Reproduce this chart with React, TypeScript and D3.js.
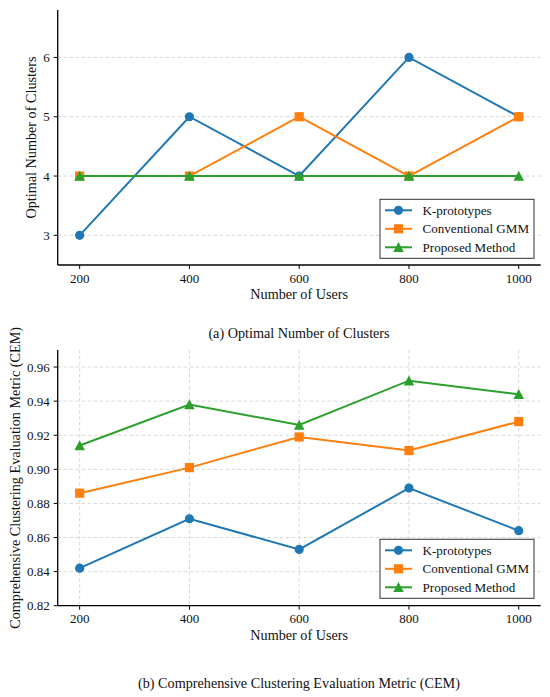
import React from "react";
import * as d3 from "d3";

const users = [200, 400, 600, 800, 1000];
const seriesNames = ["K-prototypes", "Conventional GMM", "Proposed Method"];
const colors = ["#1f77b4", "#ff7f0e", "#2ca02c"];
const markers = ["circle", "square", "triangle"];

const clustersK = [3, 5, 4, 6, 5];
const clustersGMM = [4, 4, 5, 4, 5];
const clustersProposed = [4, 4, 4, 4, 4];
const clusterTicks = [3, 4, 5, 6];

const cemK = [0.842, 0.871, 0.853, 0.889, 0.864];
const cemGMM = [0.886, 0.901, 0.919, 0.911, 0.928];
const cemProposed = [0.914, 0.938, 0.926, 0.952, 0.944];
const cemTicks = [0.82, 0.84, 0.86, 0.88, 0.9, 0.92, 0.94, 0.96];

const FONT = "'Liberation Serif', 'Times New Roman', serif";

function markerPath(kind: string, cx: number, cy: number): string {
  const p = d3.path();
  if (kind === "circle") {
    p.arc(cx, cy, 4.6, 0, Math.PI * 2);
  } else if (kind === "square") {
    p.rect(cx - 4.6, cy - 4.6, 9.2, 9.2);
  } else {
    p.moveTo(cx, cy - 5.3);
    p.lineTo(cx - 5.3, cy + 4.8);
    p.lineTo(cx + 5.3, cy + 4.8);
    p.closePath();
  }
  return p.toString();
}

type PanelProps = {
  data: number[][];
  yDomain: [number, number];
  yTicks: number[];
  yFormat: (v: number) => string;
  top: number;
  bottom: number;
  yLabel: string;
  yLabelX: number;
  caption: string;
  captionY: number;
  verticalGrid: boolean;
  legendTop: number;
};

function Panel(p: PanelProps) {
  const left = 57.7;
  const right = 540.7;
  const x = d3.scaleLinear().domain([160, 1040]).range([left, right]);
  const y = d3.scaleLinear().domain(p.yDomain).range([p.bottom, p.top]);
  const line = d3
    .line<number>()
    .x((_, i) => x(users[i]))
    .y((v) => y(v));
  const gridColor = "#d4d4d4";
  const legendLeft = 380;
  const legendW = 154;
  const rowH = 18.5;
  return (
    <g>
      {p.yTicks.map((t) => (
        <line
          key={"hg" + t}
          x1={left}
          x2={right}
          y1={y(t)}
          y2={y(t)}
          stroke={gridColor}
          strokeWidth={0.9}
          strokeDasharray="3.5,2.5"
        />
      ))}
      {p.verticalGrid &&
        users.map((u) => (
          <line
            key={"vg" + u}
            x1={x(u)}
            x2={x(u)}
            y1={p.top}
            y2={p.bottom}
            stroke={gridColor}
            strokeWidth={0.9}
            strokeDasharray="3.5,2.5"
          />
        ))}
      {p.data.map((vals, si) => (
        <g key={"s" + si}>
          <path d={line(vals) || ""} fill="none" stroke={colors[si]} strokeWidth={2} />
          {vals.map((v, i) => (
            <path key={i} d={markerPath(markers[si], x(users[i]), y(v))} fill={colors[si]} />
          ))}
        </g>
      ))}
      <line x1={left} x2={left} y1={p.top} y2={p.bottom} stroke="#000" strokeWidth={1.3} />
      <line x1={left} x2={right} y1={p.bottom} y2={p.bottom} stroke="#000" strokeWidth={1.3} />
      {p.yTicks.map((t) => (
        <g key={"yt" + t}>
          <line x1={left - 4} x2={left} y1={y(t)} y2={y(t)} stroke="#000" strokeWidth={1} />
          <text
            x={left - 8}
            y={y(t) + 4.5}
            textAnchor="end"
            fontSize={13}
            fontFamily={FONT}
            fill="#111"
          >
            {p.yFormat(t)}
          </text>
        </g>
      ))}
      {users.map((u) => (
        <g key={"xt" + u}>
          <line x1={x(u)} x2={x(u)} y1={p.bottom} y2={p.bottom + 4} stroke="#000" strokeWidth={1} />
          <text
            x={x(u)}
            y={p.bottom + 17.5}
            textAnchor="middle"
            fontSize={13}
            fontFamily={FONT}
            fill="#111"
          >
            {u}
          </text>
        </g>
      ))}
      <text
        x={(left + right) / 2}
        y={p.bottom + 34.3}
        textAnchor="middle"
        fontSize={14.2}
        fontFamily={FONT}
        fill="#111"
      >
        Number of Users
      </text>
      <text
        transform={`translate(${p.yLabelX},${(p.top + p.bottom) / 2}) rotate(-90)`}
        textAnchor="middle"
        fontSize={14.2}
        fontFamily={FONT}
        fill="#111"
      >
        {p.yLabel}
      </text>
      <rect
        x={legendLeft}
        y={p.legendTop}
        width={legendW}
        height={59}
        fill="#fff"
        stroke="#333"
        strokeWidth={1}
      />
      {seriesNames.map((name, si) => {
        const cy = p.legendTop + 11 + si * rowH;
        return (
          <g key={"lg" + si}>
            <line x1={385} x2={412} y1={cy} y2={cy} stroke={colors[si]} strokeWidth={2} />
            <path d={markerPath(markers[si], 398.5, cy)} fill={colors[si]} />
            <text x={422.5} y={cy + 4.5} fontSize={13.1} fontFamily={FONT} fill="#111">
              {name}
            </text>
          </g>
        );
      })}
      <text
        x={299}
        y={p.captionY}
        textAnchor="middle"
        fontSize={14.2}
        fontFamily={FONT}
        fill="#111"
      >
        {p.caption}
      </text>
    </g>
  );
}

export default function App() {
  return (
    <svg
      width={550}
      height={697}
      style={{ position: "absolute", left: 0, top: 0, background: "#fff" }}
    >
      <rect width={550} height={697} fill="#fff" />
      <Panel
        data={[clustersK, clustersGMM, clustersProposed]}
        yDomain={[2.5, 6.8]}
        yTicks={clusterTicks}
        yFormat={(v) => String(v)}
        top={10}
        bottom={265}
        yLabel="Optimal Number of Clusters"
        yLabelX={36}
        caption="(a) Optimal Number of Clusters"
        captionY={337.5}
        verticalGrid={false}
        legendTop={199.3}
      />
      <Panel
        data={[cemK, cemGMM, cemProposed]}
        yDomain={[0.82, 0.97]}
        yTicks={cemTicks}
        yFormat={(v) => d3.format(".2f")(v)}
        top={350}
        bottom={605.7}
        yLabel="Comprehensive Clustering Evaluation Metric (CEM)"
        yLabelX={19.5}
        caption="(b) Comprehensive Clustering Evaluation Metric (CEM)"
        captionY={688}
        verticalGrid={true}
        legendTop={539.3}
      />
    </svg>
  );
}
